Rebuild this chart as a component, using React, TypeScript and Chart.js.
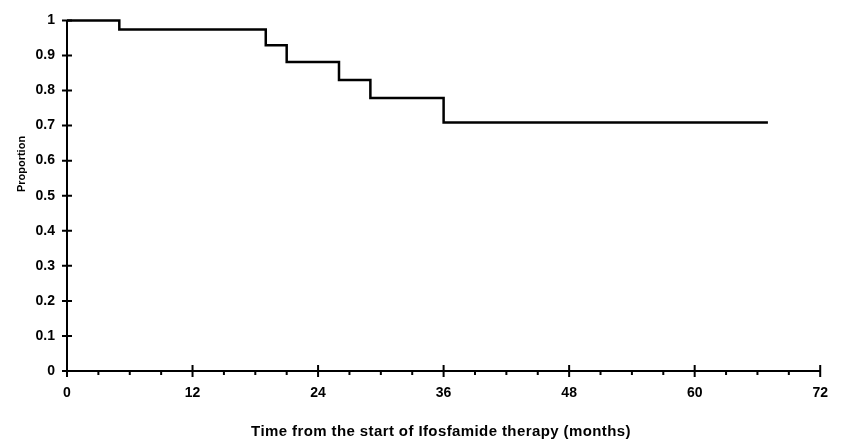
import React, { useEffect, useRef } from "react";
import { Chart, registerables } from "chart.js";

Chart.register(...registerables);

const stepTimes = [0, 5, 19, 21, 26, 29, 36, 67];
const survival = [1, 0.974, 0.929, 0.881, 0.83, 0.779, 0.709, 0.709];
const xTickValues = [0, 12, 24, 36, 48, 60, 72];
const xMinorStep = 3;
const yTickValues = [0, 0.1, 0.2, 0.3, 0.4, 0.5, 0.6, 0.7, 0.8, 0.9, 1];
const xTitle = "Time from the start of Ifosfamide therapy (months)";
const yTitle = "Proportion";

const FONT = "'Liberation Sans', Arial, Helvetica, sans-serif";

const axesPlugin = {
  id: "kmAxes",
  afterDraw(chart: any) {
    const ctx = chart.ctx;
    const xs = chart.scales.x;
    const ys = chart.scales.y;
    const x0 = xs.getPixelForValue(0);
    const x1 = xs.getPixelForValue(72);
    const y0 = ys.getPixelForValue(0);
    const y1 = ys.getPixelForValue(1);
    ctx.save();
    ctx.strokeStyle = "#000";
    ctx.lineWidth = 2;
    ctx.lineCap = "butt";
    ctx.beginPath();
    ctx.moveTo(x0, y1 - 1);
    ctx.lineTo(x0, y0 + 1);
    ctx.moveTo(x0 - 1, y0);
    ctx.lineTo(x1 + 1, y0);
    yTickValues.forEach((v) => {
      const py = ys.getPixelForValue(v);
      ctx.moveTo(x0 - 5, py);
      ctx.lineTo(x0 + 5, py);
    });
    xTickValues.forEach((v) => {
      const px = xs.getPixelForValue(v);
      ctx.moveTo(px, y0 - 6);
      ctx.lineTo(px, y0 + 6);
    });
    for (let v = 0; v <= 72; v += xMinorStep) {
      if (v % 12 === 0) continue;
      const px = xs.getPixelForValue(v);
      ctx.moveTo(px, y0);
      ctx.lineTo(px, y0 + 4);
    }
    ctx.stroke();

    ctx.fillStyle = "#000";
    ctx.font = `bold 15px ${FONT}`;
    try {
      (ctx as any).letterSpacing = "0.4px";
    } catch (e) {}
    ctx.textAlign = "center";
    ctx.textBaseline = "middle";
    ctx.fillText(xTitle, 441, 432);
    try {
      (ctx as any).letterSpacing = "0px";
    } catch (e) {}

    ctx.translate(22, 164);
    ctx.rotate(-Math.PI / 2);
    ctx.font = `bold 11px ${FONT}`;
    ctx.fillText(yTitle, 0, 0);
    ctx.restore();
  },
};

export default function App() {
  const ref = useRef<HTMLCanvasElement | null>(null);

  useEffect(() => {
    if (!ref.current) return;
    Chart.defaults.font.family = FONT;
    const chart = new Chart(ref.current, {
      type: "line",
      data: {
        datasets: [
          {
            data: stepTimes.map((t, i) => ({ x: t, y: survival[i] })),
            stepped: "before",
            borderColor: "#000",
            borderWidth: 2.5,
            pointRadius: 0,
            fill: false,
            clip: false as any,
          },
        ],
      },
      options: {
        responsive: false,
        animation: false,
        layout: { padding: { top: 16, right: 13, left: 0, bottom: 0 } },
        plugins: {
          legend: { display: false },
          tooltip: { enabled: false },
          title: { display: false },
        },
        scales: {
          x: {
            type: "linear",
            min: 0,
            max: 72,
            grid: { display: false, drawTicks: false },
            border: { display: false },
            afterBuildTicks: (s: any) => {
              s.ticks = xTickValues.map((v) => ({ value: v }));
            },
            afterFit: (s: any) => {
              s.height = 71;
            },
            ticks: {
              color: "#000",
              font: { size: 14, weight: "bold" },
              padding: 14,
              maxRotation: 0,
              autoSkip: false,
              callback: (v: any) => String(v),
            },
          },
          y: {
            type: "linear",
            min: 0,
            max: 1,
            grid: { display: false, drawTicks: false },
            border: { display: false },
            afterBuildTicks: (s: any) => {
              s.ticks = yTickValues.map((v) => ({ value: v }));
            },
            afterFit: (s: any) => {
              s.width = 67;
            },
            ticks: {
              color: "#000",
              font: { size: 14, weight: "bold" },
              padding: 12,
              autoSkip: false,
              callback: (v: any) => String(Number(Number(v).toFixed(1))),
            },
          },
        },
      },
      plugins: [axesPlugin],
    });
    return () => chart.destroy();
  }, []);

  return (
    <div style={{ position: "fixed", left: 0, top: 0, width: 842, height: 442, background: "#fff" }}>
      <canvas ref={ref} width={842} height={442} style={{ display: "block" }} />
    </div>
  );
}
